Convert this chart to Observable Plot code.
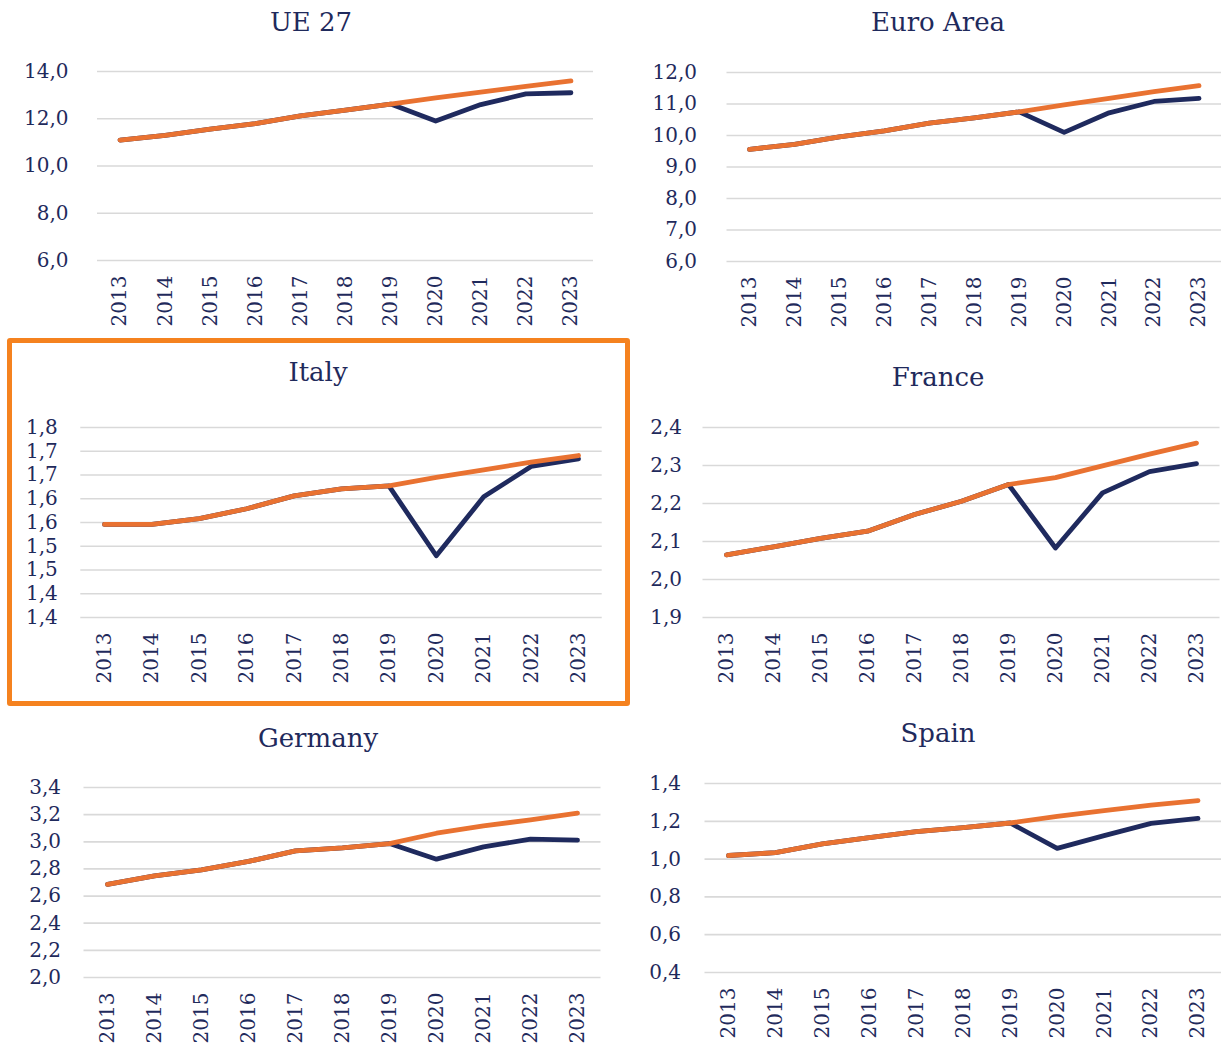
<!DOCTYPE html>
<html>
<head>
<meta charset="utf-8">
<script src="https://cdn.jsdelivr.net/npm/d3@7"></script>
<script src="https://cdn.jsdelivr.net/npm/@observablehq/plot@0.6"></script>
<style>
  body { margin: 0; background: #ffffff; }
  #root { position: relative; width: 1221px; height: 1045px; overflow: hidden; font-family: "DejaVu Serif", serif; color: #1f2a5c; }
  .title { position: absolute; transform: translate(-50%, -50%); font-size: 26px; white-space: nowrap; color: #1f2a5c; }
  .box { position: absolute; border: 5px solid #f5821f; border-radius: 3px; box-sizing: border-box; }
</style>
</head>
<body>
<div id="root"></div>
<script>
// ---------- DATA ----------
const years = ["2013","2014","2015","2016","2017","2018","2019","2020","2021","2022","2023"];

const ue27Actual = [11.10, 11.30, 11.56, 11.79, 12.12, 12.37, 12.62, 11.90, 12.60, 13.05, 13.10];
const ue27Trend  = [11.10, 11.30, 11.56, 11.79, 12.12, 12.37, 12.62, 12.88, 13.13, 13.37, 13.60];
const ue27Ticks  = [6, 8, 10, 12, 14];
const ue27Labels = ["6,0", "8,0", "10,0", "12,0", "14,0"];

const euroActual = [9.56, 9.72, 9.96, 10.15, 10.39, 10.56, 10.75, 10.10, 10.72, 11.08, 11.18];
const euroTrend  = [9.56, 9.72, 9.96, 10.15, 10.39, 10.56, 10.75, 10.97, 11.18, 11.39, 11.58];
const euroTicks  = [6, 7, 8, 9, 10, 11, 12];
const euroLabels = ["6,0", "7,0", "8,0", "9,0", "10,0", "11,0", "12,0"];

const italyActual = [1.596, 1.596, 1.608, 1.629, 1.656, 1.671, 1.677, 1.530, 1.654, 1.718, 1.734];
const italyTrend  = [1.596, 1.596, 1.608, 1.629, 1.656, 1.671, 1.677, 1.695, 1.711, 1.727, 1.741];
const italyTicks  = [1.40, 1.45, 1.50, 1.55, 1.60, 1.65, 1.70, 1.75, 1.80];
const italyLabels = ["1,4", "1,4", "1,5", "1,5", "1,6", "1,6", "1,7", "1,7", "1,8"];

const franceActual = [2.065, 2.086, 2.108, 2.127, 2.171, 2.206, 2.250, 2.083, 2.228, 2.284, 2.305];
const franceTrend  = [2.065, 2.086, 2.108, 2.127, 2.171, 2.206, 2.250, 2.268, 2.299, 2.330, 2.359];
const franceTicks  = [1.9, 2.0, 2.1, 2.2, 2.3, 2.4];
const franceLabels = ["1,9", "2,0", "2,1", "2,2", "2,3", "2,4"];

const germanyActual = [2.687, 2.749, 2.793, 2.855, 2.933, 2.955, 2.987, 2.872, 2.963, 3.019, 3.012];
const germanyTrend  = [2.687, 2.749, 2.793, 2.855, 2.933, 2.955, 2.987, 3.063, 3.117, 3.162, 3.211];
const germanyTicks  = [2.0, 2.2, 2.4, 2.6, 2.8, 3.0, 3.2, 3.4];
const germanyLabels = ["2,0", "2,2", "2,4", "2,6", "2,8", "3,0", "3,2", "3,4"];

const spainActual = [1.019, 1.034, 1.080, 1.114, 1.145, 1.166, 1.191, 1.057, 1.124, 1.189, 1.215];
const spainTrend  = [1.019, 1.034, 1.080, 1.114, 1.145, 1.166, 1.191, 1.226, 1.256, 1.286, 1.309];
const spainTicks  = [0.4, 0.6, 0.8, 1.0, 1.2, 1.4];
const spainLabels = ["0,4", "0,6", "0,8", "1,0", "1,2", "1,4"];

// ---------- STYLE ----------
const NAVY = "#1f2a5e";
const ORANGE = "#e97231";
const GRID = "#d9d9d9";
const TEXT = "#1f2a5c";
const TICK_FONT = 20;

// ---------- LAYOUT ----------
const panels = [
  { title: "UE 27", actual: ue27Actual, trend: ue27Trend, ticks: ue27Ticks, labels: ue27Labels,
    left: 0, top: 45, w: 610, h: 295, x0: 97, x1: 593, y0: 71, y1: 260, padY: 29, tx: 311, ty: 22 },
  { title: "Euro Area", actual: euroActual, trend: euroTrend, ticks: euroTicks, labels: euroLabels,
    left: 610, top: 45, w: 611, h: 295, x0: 726.5, x1: 1221, y0: 72, y1: 261, padY: 30, tx: 938, ty: 22 },
  { title: "Italy", actual: italyActual, trend: italyTrend, ticks: italyTicks, labels: italyLabels,
    left: 12, top: 395, w: 612, h: 305, x0: 80.3, x1: 601.7, y0: 427, y1: 617, padY: 23, tx: 318, ty: 372 },
  { title: "France", actual: franceActual, trend: franceTrend, ticks: franceTicks, labels: franceLabels,
    left: 630, top: 395, w: 591, h: 305, x0: 702.5, x1: 1219.5, y0: 427, y1: 617, padY: 21, tx: 938, ty: 377 },
  { title: "Germany", actual: germanyActual, trend: germanyTrend, ticks: germanyTicks, labels: germanyLabels,
    left: 0, top: 755, w: 615, h: 290, x0: 83.5, x1: 600.5, y0: 787, y1: 977, padY: 23, tx: 318, ty: 738 },
  { title: "Spain", actual: spainActual, trend: spainTrend, ticks: spainTicks, labels: spainLabels,
    left: 615, top: 755, w: 606, h: 290, x0: 704.5, x1: 1221, y0: 783, y1: 972, padY: 24, tx: 938, ty: 733 }
];

const root = document.getElementById("root");

// highlight box around Italy
const box = document.createElement("div");
box.className = "box";
Object.assign(box.style, { left: "7px", top: "338px", width: "623px", height: "368px" });
root.appendChild(box);

for (const p of panels) {
  const actualData = years.map((yr, i) => ({ year: yr, value: p.actual[i] }));
  const trendData = years.map((yr, i) => ({ year: yr, value: p.trend[i] }));
  const labelOf = new Map(p.ticks.map((t, i) => [t, p.labels[i]]));
  const dom = [p.ticks[0], p.ticks[p.ticks.length - 1]];

  const svg = Plot.plot({
    width: p.w,
    height: p.h,
    marginLeft: p.x0 - p.left,
    marginRight: p.left + p.w - p.x1,
    marginTop: p.y0 - p.top,
    marginBottom: p.top + p.h - p.y1,
    style: { fontFamily: "DejaVu Serif, serif", fontSize: TICK_FONT + "px", color: TEXT, background: "none", overflow: "hidden" },
    x: { type: "point", domain: years, padding: 0.5, round: false },
    y: { type: "linear", domain: dom },
    marks: [
      Plot.ruleY(p.ticks, { stroke: GRID, strokeWidth: 1.7 }),
      Plot.axisY(p.ticks, { tickSize: 0, tickPadding: p.padY, tickFormat: d => labelOf.get(d), fontSize: TICK_FONT, fill: TEXT, label: null }),
      Plot.axisX({ tickSize: 0, tickPadding: 15, tickRotate: -90, fontSize: TICK_FONT, fill: TEXT, label: null }),
      Plot.line(actualData, { x: "year", y: "value", stroke: NAVY, strokeWidth: 4.8, strokeLinecap: "round", strokeLinejoin: "round" }),
      Plot.line(trendData, { x: "year", y: "value", stroke: ORANGE, strokeWidth: 4.8, strokeLinecap: "round", strokeLinejoin: "round" })
    ]
  });
  Object.assign(svg.style, { position: "absolute", left: p.left + "px", top: p.top + "px", maxWidth: "none" });
  root.appendChild(svg);

  const t = document.createElement("div");
  t.className = "title";
  t.textContent = p.title;
  Object.assign(t.style, { left: p.tx + "px", top: p.ty + "px" });
  root.appendChild(t);
}
</script>
</body>
</html>
